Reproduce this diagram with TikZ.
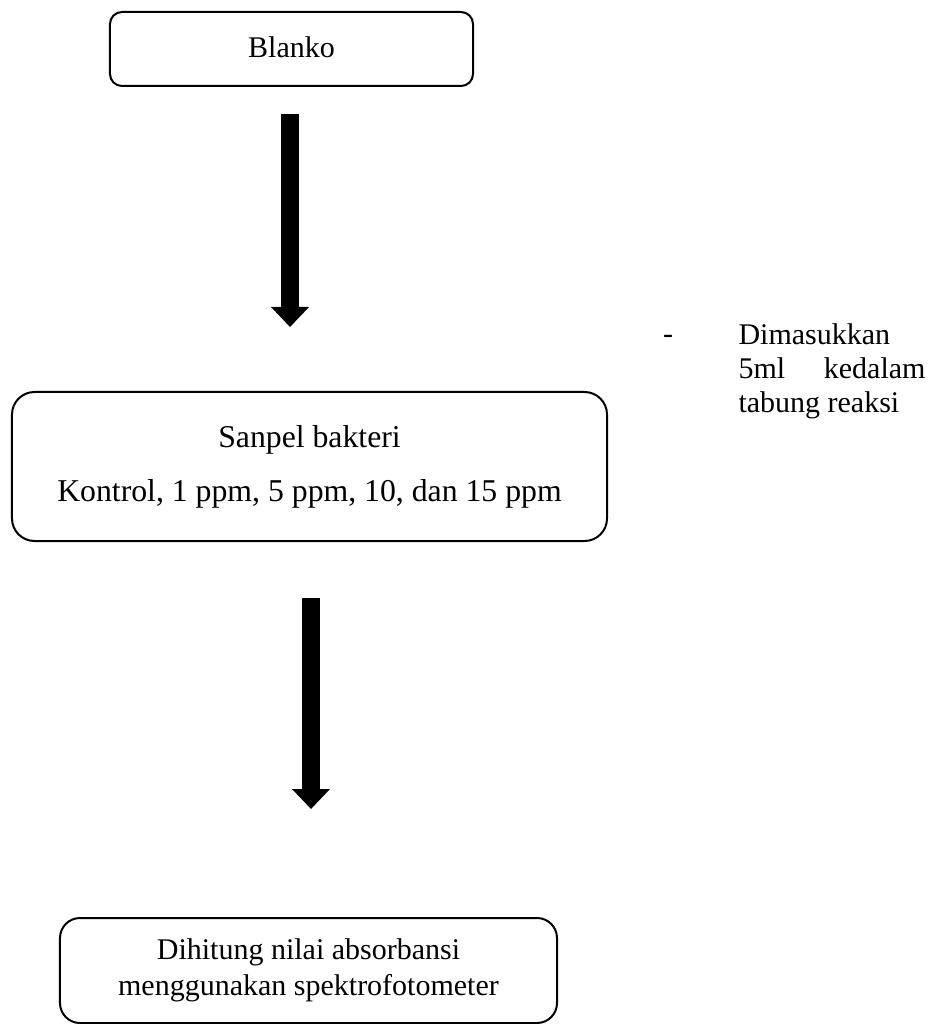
\documentclass[tikz,border=0pt]{standalone}
\usepackage{fontspec}
\setmainfont{Liberation Serif}
\usetikzlibrary{arrows.meta,calc}

\tikzset{
  flowbox/.style={draw=black, line width=0.8pt, align=center, inner sep=0pt,
    font=\fontsize{12pt}{13.8pt}\selectfont},
  blockarrow/.style={line width=7.2pt, draw=black,
    -{Triangle[width=15.2pt, length=8pt, line width=0pt]}},
  note/.style={inner sep=0pt, font=\fontsize{12pt}{13.6pt}\selectfont}
}

\begin{document}
\begin{tikzpicture}[x=0.4pt, y=-0.4pt]
  \useasboundingbox (0,0) rectangle (937,1024);

  % process boxes
  \node[flowbox, rounded corners=4.8pt, minimum width=145.2pt, minimum height=29.6pt]
    (blanko) at (291.5,49) {\raisebox{1.6pt}{Blanko}};
  \node[flowbox, rounded corners=9pt, minimum width=238pt, minimum height=59.6pt,
    font=\fontsize{12.7pt}{14pt}\selectfont]
    (sampel) at (309.5,466.5) {Sanpel bakteri\\[7.5pt]Kontrol, 1 ppm, 5 ppm, 10, dan 15 ppm};
  \node[flowbox, rounded corners=8pt, minimum width=198.8pt, minimum height=42pt,
    font=\fontsize{12pt}{14.2pt}\selectfont]
    (hitung) at (308.5,970.5) {Dihitung nilai absorbansi\\menggunakan spektrofotometer};

  % block arrows between the steps
  \coordinate (a1s) at (290,114);
  \coordinate (a1e) at ($(a1s|-sampel.north)+(0,-64)$);
  \coordinate (a2s) at ($(sampel.south)+(1.5,56)$);
  \coordinate (a2e) at ($(a2s|-hitung.north)+(0,-108)$);
  \draw[blockarrow] (a1s) -- (a1e);
  \draw[blockarrow] (a2s) -- (a2e);

  % side note
  \node[note, anchor=base] (dash) at (668,344) {-};
  \node[note, anchor=north west, align=left] (dimasukkan) at (738,323)
    {Dimasukkan\\\makebox[74.8pt][s]{5ml kedalam}\\tabung reaksi};
\end{tikzpicture}
\end{document}
